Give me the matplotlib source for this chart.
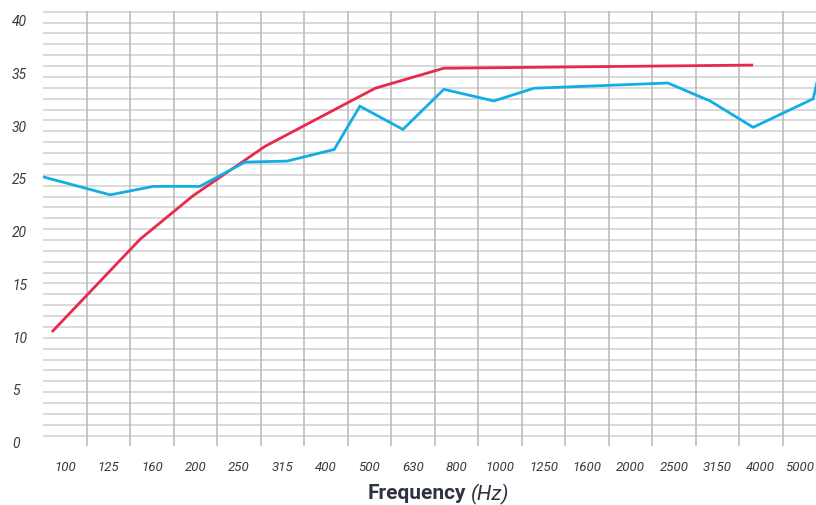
import numpy as np
import matplotlib.pyplot as plt
import matplotlib.transforms as mtransforms

plt.rcParams['font.family'] = ['Roboto', 'DejaVu Sans']

# third-octave band labels (band index 0 = 100 Hz)
freq_labels = ['100', '125', '160', '200', '250', '315', '400', '500', '630',
               '800', '1000', '1250', '1600', '2000', '2500', '3150', '4000', '5000']
y_ticks = [0, 5, 10, 15, 20, 25, 30, 35, 40]

blue_pos = [-0.5, 1.04, 2.03, 3.10, 4.14, 5.11, 6.19, 6.78, 7.77, 8.71,
            9.86, 10.78, 13.86, 14.83, 15.82, 17.20, 17.40]
blue_val = [25.1, 23.4, 24.2, 24.2, 26.5, 26.6, 27.7, 31.8, 29.6, 33.4,
            32.3, 33.5, 34.0, 32.3, 29.8, 32.5, 36.0]

# reference curve (red)
red_pos = [-0.3, 1.73, 2.94, 4.60, 7.13, 8.71, 15.82]
red_val = [10.4, 19.2, 23.3, 28.0, 33.5, 35.4, 35.7]

W, H = 816, 506
fig = plt.figure(figsize=(W / 100, H / 100), dpi=100)

# axes frame in pixels; right edge runs past the picture like the original
x0, x1, y0, y1 = 43.2, 43.2 + 43.5 * 18, 12, 447
ax = fig.add_axes([x0 / W, 1 - y1 / H, (x1 - x0) / W, (y1 - y0) / H])
ax.set_xlim(-0.5, 17.5)
ax.set_ylim((442.7 - y1) / 10.55, (442.7 - y0) / 10.55)

# decorative grid: 40 horizontal rules, vertical rules between bands
for yv in np.linspace(0.57, 40.76, 40):
    ax.axhline(yv, color='#d0d0d0', lw=1.1, zorder=1)
for k in range(1, 18):
    ax.axvline(k - 0.5, color='#bdbdbd', lw=1.2, zorder=1)

ax.plot(red_pos, red_val, color='#e8294b', lw=2.0, zorder=3,
        solid_capstyle='butt')
ax.plot(blue_pos, blue_val, color='#13ade6', lw=2.0, zorder=3,
        solid_joinstyle='miter')

for s in ax.spines.values():
    s.set_visible(False)

ax.set_xticks(range(len(freq_labels)))
ax.set_xticklabels(freq_labels, fontstyle='italic', fontsize=9.5, color='#3a3a3a')
ax.tick_params(axis='x', length=0, pad=10)
# nudge the last label so it stays inside the picture
last = ax.get_xticklabels()[-1]
last.set_transform(last.get_transform() +
                   mtransforms.ScaledTranslation(-5 / 100, 0, fig.dpi_scale_trans))

ax.set_yticks(y_ticks)
ax.set_yticklabels([str(v) for v in y_ticks], fontstyle='italic', fontsize=10,
                   color='#3a3a3a')
ax.tick_params(axis='y', length=0, pad=22.5)
for t in ax.get_yticklabels():
    t.set_horizontalalignment('left')

fig.text(466 / W, 1 - 494 / H, 'Frequency', ha='right', va='center',
         fontsize=15, fontweight='bold', color='#2d3340')
fig.text(471 / W, 1 - 494 / H, '(Hz)', ha='left', va='center',
         fontsize=15, fontstyle='italic', color='#2d3340')

fig.savefig('out.png', dpi=100)
